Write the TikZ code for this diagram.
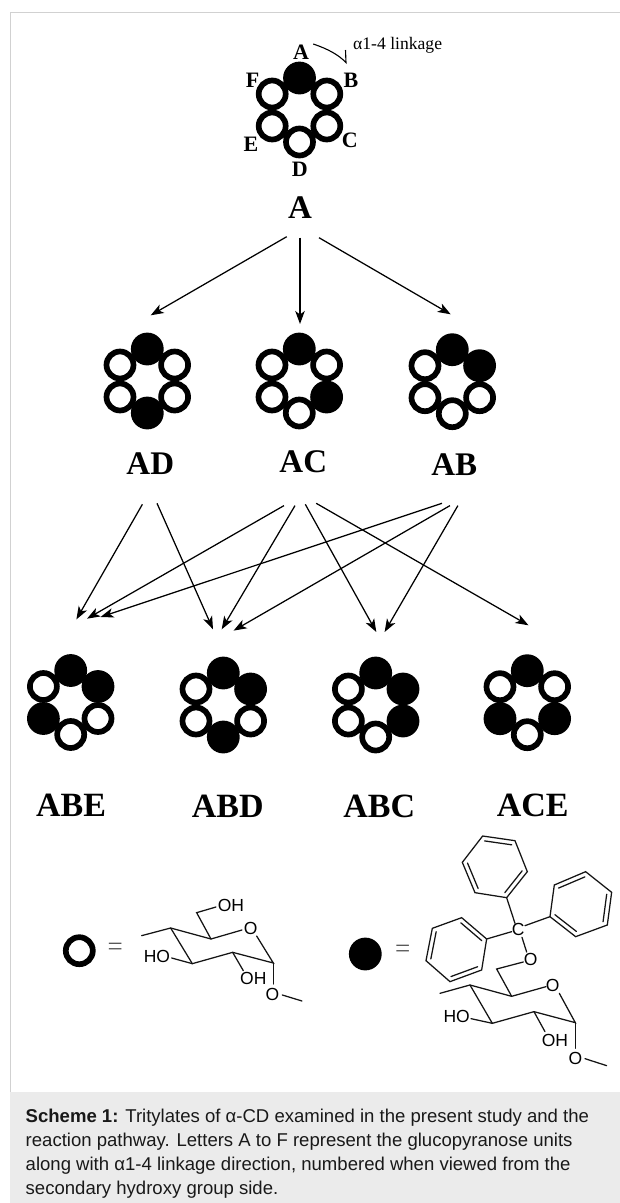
\documentclass[tikz,border=0pt]{standalone}
\usepackage{fontspec}
\setmainfont{Liberation Serif}
\newfontfamily\capsans{Liberation Sans}
\usetikzlibrary{arrows.meta,calc}
\tikzset{
  openunit/.style={circle,draw=black,line width=5.7pt,minimum size=27pt,inner sep=0pt},
  fullunit/.style={circle,fill=black,minimum size=32.8pt,inner sep=0pt,outer sep=0pt},
  biglabel/.style={font=\fontsize{33}{36}\selectfont\bfseries,inner sep=0pt},
  triolabel/.style={font=\fontsize{34}{36}\selectfont\bfseries,inner sep=0pt},
  unitlabel/.style={font=\fontsize{22}{24}\selectfont\bfseries,inner sep=0pt},
  chem/.style={font=\capsans\fontsize{17.5}{18}\selectfont,inner sep=0pt},
  equalsign/.style={font=\fontsize{27}{28}\selectfont,text=black!65,inner sep=0pt},
  flow/.style={line width=1.25pt,-{Stealth[length=13pt,width=9.5pt,inset=3.5pt]}},
  bond/.style={line width=1.25pt,black!92,line cap=round},
  captionline/.style={anchor=base west,inner sep=0pt,font=\capsans\fontsize{18.55}{20}\selectfont,text=black!90}
}
\newcommand{\cdgroup}[8]{%
  \node[#4] (#1A) at (#2,#3-32) {};
  \node[#5] (#1B) at (#2+27.3,#3-16) {};
  \node[#6] (#1C) at (#2+27.3,#3+16) {};
  \node[#7] (#1D) at (#2,#3+32) {};
  \node[#8] (#1E) at (#2-27.3,#3+16) {};
  \node[openunit] (#1F) at (#2-27.3,#3-16) {};
}
\begin{document}
\begin{tikzpicture}[x=1pt,y=-1pt]
\useasboundingbox (0,0) rectangle (620,1203);
\fill[white] (0,0) rectangle (620,1203);
% frame and caption band
\coordinate (frameTL) at (10.5,12);
\coordinate (frameTR) at (620,12);
\coordinate (frameBL) at (10.5,1092);
\draw[black!18,line width=1pt] (frameTR) -- (frameTL) -- (frameBL);
\fill[black!8] (10,1092) rectangle (620,1203);
\node[captionline] (cap1) at (25.5,1122) {{\bfseries Scheme 1:} Tritylates of α-CD examined in the present study and the};
\node[captionline] (cap2) at (25.5,1146) {reaction pathway. Letters A to F represent the glucopyranose units};
\node[captionline] (cap3) at (25.5,1170) {along with α1-4 linkage direction, numbered when viewed from the};
\node[captionline] (cap4) at (25.5,1194) {secondary hydroxy group side.};

% parent
\cdgroup{p}{299.5}{110}{fullunit}{openunit}{openunit}{openunit}{openunit}{}
\node[unitlabel] (la) at (301,52) {A};
\node[unitlabel] (lf) at (252.7,80) {F};
\node[unitlabel] (lb) at (351,80) {B};
\node[unitlabel] (le) at (251,144) {E};
\node[unitlabel] (lc) at (349.7,140.7) {C};
\node[unitlabel] (ld) at (299.7,169.3) {D};
\node[inner sep=0pt,anchor=west,font=\fontsize{17.6}{20}\selectfont] (link) at (353,45.5) {α1-4 linkage};
\coordinate (cs) at (313.3,44);
\coordinate (ce) at (346,62.7);
\coordinate (cb) at (345.5,50);
\draw[line width=1.1pt] (cs) .. controls (328,49) and (339,55) .. (ce) -- (cb);
\node[biglabel] (lA) at (300,207.3) {A};

% second row
\cdgroup{ad}{147.3}{381}{fullunit}{openunit}{openunit}{fullunit}{openunit}{}
\cdgroup{ac}{299.3}{381}{fullunit}{openunit}{fullunit}{openunit}{openunit}{}
\cdgroup{ab}{452.3}{381.7}{fullunit}{fullunit}{openunit}{openunit}{openunit}{}
\node[biglabel] (lAD) at (150.3,464) {AD};
\node[biglabel] (lAC) at (303.3,461.7) {AC};
\node[biglabel] (lAB) at (454.3,464.3) {AB};

% third row
\cdgroup{abe}{70.7}{702.5}{fullunit}{fullunit}{openunit}{openunit}{fullunit}{}
\cdgroup{abd}{223.3}{705}{fullunit}{fullunit}{openunit}{fullunit}{openunit}{}
\cdgroup{abc}{375.7}{705}{fullunit}{fullunit}{fullunit}{openunit}{openunit}{}
\cdgroup{ace}{527.3}{702.7}{fullunit}{openunit}{fullunit}{openunit}{fullunit}{}
\node[triolabel] (lABE) at (71,805) {ABE};
\node[triolabel] (lABD) at (227.7,806) {ABD};
\node[triolabel] (lABC) at (379.3,806) {ABC};
\node[triolabel] (lACE) at (532.7,805) {ACE};

% connector ends
\coordinate (a1) at (286.7,236.7); \coordinate (a1e) at (150.7,315.3);
\coordinate (a2) at (300,237.7);   \coordinate (a2e) at (300,324);
\coordinate (a3) at (319,237.7);   \coordinate (a3e) at (450.7,314.3);
\coordinate (d1) at (142.4,504.3); \coordinate (d1e) at (76.4,619.4);
\coordinate (d2) at (157,503.3);   \coordinate (d2e) at (213,629.3);
\coordinate (c1) at (284,505.6);   \coordinate (c1e) at (87,618.7);
\coordinate (c2) at (295,505.6);   \coordinate (c2e) at (221.7,629.3);
\coordinate (c3) at (305.3,504.3); \coordinate (c3e) at (376.3,632);
\coordinate (c4) at (316.2,503.3); \coordinate (c4e) at (528.5,625.3);
\coordinate (b1) at (442,503.3);   \coordinate (b1e) at (100.6,617);
\coordinate (b2) at (450,505.6);   \coordinate (b2e) at (233.6,630.6);
\coordinate (b3) at (457.9,505.6); \coordinate (b3e) at (384.6,632);
\foreach \s in {a1,a2,a3,d1,d2,c1,c2,c3,c4,b1,b2,b3} \draw[flow] (\s) -- (\s e);

% legend: open unit
\node[openunit] (keyopen) at (79.3,950.7) {};
\node[equalsign] (eq1) at (115.3,949) {=};
\begin{scope}[shift={(30,860)},x=0.3333pt,y=-0.3333pt]
  \node[chem] (oh6) at (603,137) {OH};
  \node[chem] (o5) at (662,205) {O};
  \node[chem] (ho3) at (381,290) {HO};
  \node[chem] (oh2) at (670,356) {OH};
  \node[chem] (o1) at (727,402) {O};
  \draw[bond] (335,227) -- (422,204) -- (543,237) -- (636,210);
  \draw[bond] (543,237) -- (500,158) -- (558,141);
  \draw[bond] (422,204) -- (487,311) -- (608,277) -- (730,309) -- (680,228);
  \draw[bond] (730,309) -- (730,372);
  \draw[bond] (757,405) -- (816,423);
  \draw[bond] (425,294) -- (487,311);
  \draw[bond] (608,277) -- (640,332);
\end{scope}

% legend: trityl unit
\node[fullunit] (keyfull) at (365.3,954) {};
\node[equalsign] (eq2) at (402.7,951.5) {=};
\begin{scope}[shift={(340,830)},x=0.3333pt,y=-0.3333pt]
  \node[chem] (tc) at (535,297) {C};
  \node[chem] (to) at (572,387) {O};
  \node[chem] (to5) at (638,465) {O};
  \node[chem] (tho) at (350,560) {HO};
  \node[chem] (toh) at (645,632) {OH};
  \node[chem] (to1) at (706,684) {O};
  \draw[bond] (300,490) -- (390,465) -- (515,499) -- (618,470);
  \draw[bond] (515,499) -- (470,417) -- (550,396);
  \draw[bond] (560,366) -- (546,322);
  \draw[bond] (390,465) -- (457,580) -- (582,545) -- (706,578) -- (658,490);
  \draw[bond] (706,578) -- (706,655);
  \draw[bond] (735,686) -- (800,707);
  \draw[bond] (393,566) -- (457,580);
  \draw[bond] (582,545) -- (615,605);
  \draw[bond] (525,280) -- (500,203);
  \draw[bond] (555,287) -- (630,260);
  \draw[bond] (515,305) -- (440,327);
  % top phenyl
  \draw[bond] (500,203) -- (562,125) -- (525,32) -- (428,18) -- (367,97) -- (405,188) -- cycle;
  \coordinate (uc) at (464.5,110);
  \draw[bond] ($(405,188)!0.16!(uc)$) -- ($(367,97)!0.16!(uc)$);
  \draw[bond] ($(428,18)!0.16!(uc)$) -- ($(525,32)!0.16!(uc)$);
  \draw[bond] ($(562,125)!0.16!(uc)$) -- ($(500,203)!0.16!(uc)$);
  % right phenyl
  \draw[bond] (630,260) -- (643,165) -- (737,125) -- (815,187) -- (802,285) -- (707,320) -- cycle;
  \coordinate (vc) at (722.5,223);
  \draw[bond] ($(643,165)!0.16!(vc)$) -- ($(737,125)!0.16!(vc)$);
  \draw[bond] ($(815,187)!0.16!(vc)$) -- ($(802,285)!0.16!(vc)$);
  \draw[bond] ($(707,320)!0.16!(vc)$) -- ($(630,260)!0.16!(vc)$);
  % left phenyl
  \draw[bond] (440,327) -- (365,263) -- (277,295) -- (258,392) -- (330,455) -- (425,420) -- cycle;
  \coordinate (wc) at (349,359);
  \draw[bond] ($(365,263)!0.16!(wc)$) -- ($(440,327)!0.16!(wc)$);
  \draw[bond] ($(277,295)!0.16!(wc)$) -- ($(258,392)!0.16!(wc)$);
  \draw[bond] ($(330,455)!0.16!(wc)$) -- ($(425,420)!0.16!(wc)$);
\end{scope}
\end{tikzpicture}
\end{document}
